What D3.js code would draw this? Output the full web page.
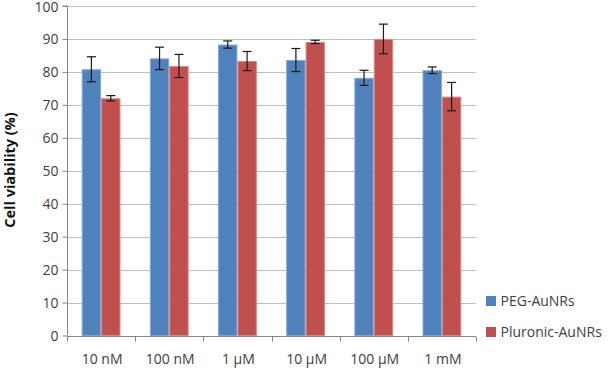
<!DOCTYPE html>
<html>
<head>
<meta charset="utf-8">
<script src="https://cdn.jsdelivr.net/npm/d3@7"></script>
<style>
  html, body { margin: 0; padding: 0; background: #fff; }
  svg { display: block; }
  text { font-family: "Open Sans", "Noto Sans", sans-serif; fill: #404040; }
</style>
</head>
<body>
<svg id="chart" width="613" height="368"></svg>
<script>
const categories = ["10 nM", "100 nM", "1 µM", "10 µM", "100 µM", "1 mM"];
const seriesNames = ["PEG-AuNRs", "Pluronic-AuNRs"];
const pegValues = [80.8, 84.1, 88.3, 83.6, 78.2, 80.5];
const pegErrors = [3.8, 3.4, 1.1, 3.5, 2.3, 1.0];
const pluronicValues = [72.0, 81.8, 83.3, 89.1, 90.0, 72.5];
const pluronicErrors = [0.8, 3.5, 2.9, 0.5, 4.5, 4.3];
const yTicks = [0, 10, 20, 30, 40, 50, 60, 70, 80, 90, 100];
const colors = ["#4F81BD", "#C0504D"];
const borders = ["#7FA6D6", "#D98886"];

(function () {
const svg = d3.select("#chart");
const mLeft = 67, mRight = 476, mTop = 6, mBottom = 335.5;

const x = d3.scaleBand().domain(categories).range([mLeft, mRight]).padding(0);
const step = x.bandwidth();
const gap = 14.7;
const x1 = d3.scaleBand().domain(seriesNames).range([gap, step - gap]).padding(0);
const y = d3.scaleLinear().domain([0, 100]).range([mBottom, mTop]);

// gridlines
svg.append("g").selectAll("line").data(yTicks.filter(d => d > 0)).join("line")
  .attr("x1", mLeft).attr("x2", mRight)
  .attr("y1", d => Math.round(y(d)) + 0.5).attr("y2", d => Math.round(y(d)) + 0.5)
  .attr("stroke", "#BFBFBF").attr("stroke-width", 1);

// y axis
const yAxis = d3.axisLeft(y).tickValues(yTicks).tickSize(5).tickPadding(4).tickFormat(d3.format("d"));
const gy = svg.append("g").attr("transform", `translate(${mLeft + 0.5},0)`).call(yAxis);
gy.select(".domain").attr("stroke", "#868686").attr("d", `M-5,${y(100)}H0V${y(0)}`);
gy.selectAll(".tick line").attr("stroke", "#868686");
gy.selectAll(".tick text").style("font-size", "14px").attr("fill", "#404040")
  .attr("dy", "0.36em")
  .style("font-family", '"Open Sans", "Noto Sans", sans-serif');

// data
const data = categories.map((c, i) => ({
  cat: c,
  vals: [
    { s: seriesNames[0], v: pegValues[i], e: pegErrors[i], k: 0 },
    { s: seriesNames[1], v: pluronicValues[i], e: pluronicErrors[i], k: 1 }
  ]
}));

const groups = svg.append("g").selectAll("g").data(data).join("g")
  .attr("transform", d => `translate(${x(d.cat)},0)`);

groups.selectAll("rect").data(d => d.vals).join("rect")
  .attr("x", d => x1(d.s) + 0.5)
  .attr("width", x1.bandwidth() - 1)
  .attr("y", d => y(d.v) + 0.5)
  .attr("height", d => y(0) - y(d.v) - 0.5)
  .attr("fill", d => colors[d.k])
  .attr("stroke", d => borders[d.k])
  .attr("stroke-width", 1);

// error bars
const eb = groups.selectAll("g.err").data(d => d.vals).join("g").attr("class", "err");
const cap = 4.5;
const cx = d => x1(d.s) + x1.bandwidth() / 2;
eb.append("line")
  .attr("x1", cx).attr("x2", cx)
  .attr("y1", d => y(d.v + d.e)).attr("y2", d => y(d.v - d.e))
  .attr("stroke", "#1a1a1a").attr("stroke-width", 1.2);
eb.append("line")
  .attr("x1", d => cx(d) - cap).attr("x2", d => cx(d) + cap)
  .attr("y1", d => y(d.v + d.e)).attr("y2", d => y(d.v + d.e))
  .attr("stroke", "#1a1a1a").attr("stroke-width", 1.2);
eb.append("line")
  .attr("x1", d => cx(d) - cap).attr("x2", d => cx(d) + cap)
  .attr("y1", d => y(d.v - d.e)).attr("y2", d => y(d.v - d.e))
  .attr("stroke", "#1a1a1a").attr("stroke-width", 1.2);

// x axis
const gx = svg.append("g").attr("transform", `translate(0,${Math.round(mBottom) + 0.5})`);
gx.append("line").attr("x1", mLeft).attr("x2", mRight).attr("stroke", "#868686");
const bounds = categories.map(c => x(c)).concat([mRight]);
gx.selectAll("line.tk").data(bounds).join("line").attr("class", "tk")
  .attr("x1", d => Math.round(d) + 0.5).attr("x2", d => Math.round(d) + 0.5)
  .attr("y1", 0).attr("y2", 5).attr("stroke", "#868686");
gx.selectAll("text").data(categories).join("text")
  .attr("x", d => x(d) + step / 2 + 1)
  .attr("y", 27)
  .attr("text-anchor", "middle")
  .style("font-size", "14px")
  .text(d => d);

// y title
svg.append("text")
  .attr("transform", "translate(14.5,170) rotate(-90)")
  .attr("text-anchor", "middle")
  .style("font-size", "14.5px").style("font-weight", "bold")
  .style("fill", "#111")
  .text("Cell viability (%)");

// legend
const lg = svg.append("g").selectAll("g").data(seriesNames).join("g")
  .attr("transform", (d, i) => `translate(486,${296 + i * 31})`);
lg.append("rect").attr("width", 10).attr("height", 10).attr("fill", (d, i) => colors[i]);
lg.append("text").attr("x", 14.5).attr("y", 10).style("font-size", "14px").text(d => d);
})();
</script>
</body>
</html>
